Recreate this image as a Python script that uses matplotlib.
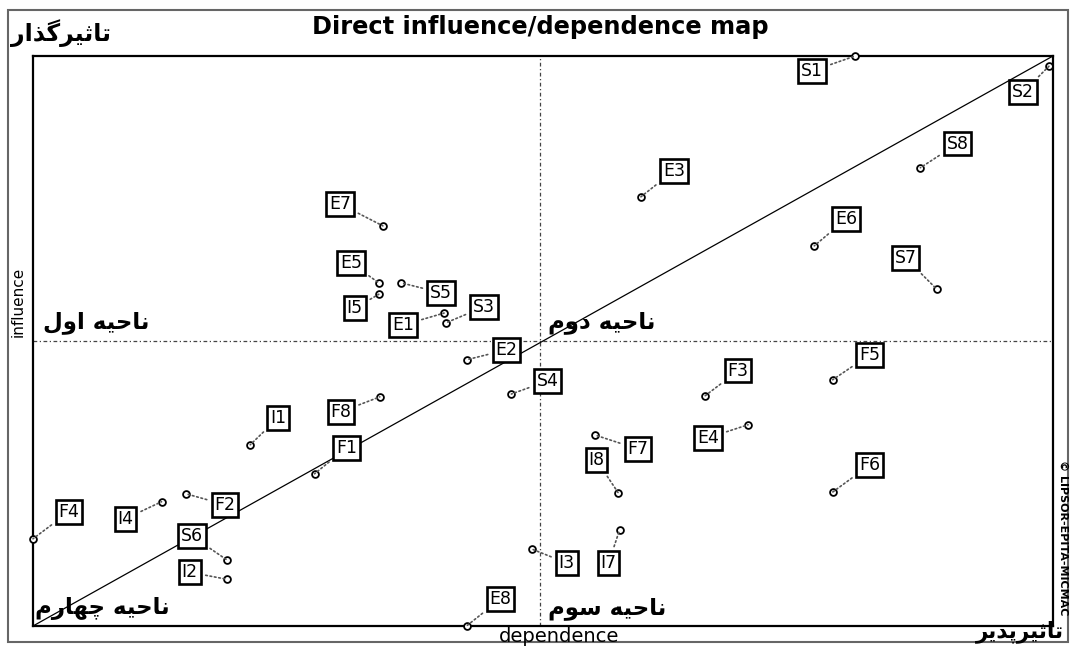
import matplotlib
matplotlib.use("Agg")
import matplotlib.pyplot as plt
from matplotlib.patches import Rectangle

# variables of the MICMAC direct influence/dependence map
names = ["S1", "S2", "S8", "E3", "E6", "S7", "E7", "E5", "I5", "S5", "S3", "E1",
         "E2", "S4", "F8", "I1", "F1", "F2", "I4", "F4", "S6", "I2", "E8", "I3",
         "I7", "I8", "F7", "E4", "F3", "F5", "F6"]
dependence = [80.6, 99.6, 87.0, 59.6, 76.6, 88.6, 34.3, 33.9, 33.9, 36.1, 40.5, 40.3,
              42.5, 46.9, 34.0, 21.3, 27.6, 15.0, 12.6, 0.0, 19.0, 19.0, 42.5, 48.9,
              57.5, 57.4, 55.1, 70.1, 65.9, 78.4, 78.4]
influence = [100.0, 98.2, 80.4, 75.3, 66.7, 59.1, 70.2, 60.2, 58.2, 60.2, 53.2, 54.9,
             46.7, 40.7, 40.2, 31.8, 26.7, 23.2, 21.8, 15.3, 11.6, 8.2, 0.0, 13.5,
             16.8, 23.3, 33.5, 35.3, 40.4, 43.2, 23.5]

# where each label box sits relative to its point (pixels, right/up)
label_offsets = [(-43, -15), (-26, -26), (37, 24), (33, 26), (32, 27), (-31, 31),
                 (-43, 22), (-28, 20), (-24, -14), (40, -10), (38, 16), (-41, -12),
                 (40, 10), (36, 13), (-39, -15), (28, 27), (32, 26), (39, -11),
                 (-36, -17), (36, 27), (-35, 24), (-37, 7), (34, 27), (35, -14),
                 (-11, -33), (-22, 33), (43, -14), (-40, -13), (33, 25), (37, 25),
                 (37, 27)]

# tiny persian shaper: presentation forms (isolated, final, initial, medial)
FORMS = {
    "ا": "\uFE8D\uFE8E", "ب": "\uFE8F\uFE90\uFE91\uFE92", "پ": "\uFB56\uFB57\uFB58\uFB59",
    "ت": "\uFE95\uFE96\uFE97\uFE98", "ث": "\uFE99\uFE9A\uFE9B\uFE9C",
    "چ": "\uFB7A\uFB7B\uFB7C\uFB7D", "ح": "\uFEA1\uFEA2\uFEA3\uFEA4",
    "د": "\uFEA9\uFEAA", "ذ": "\uFEAB\uFEAC", "ر": "\uFEAD\uFEAE", "ز": "\uFEAF\uFEB0",
    "س": "\uFEB1\uFEB2\uFEB3\uFEB4", "گ": "\uFB92\uFB93\uFB94\uFB95",
    "ل": "\uFEDD\uFEDE\uFEDF\uFEE0", "م": "\uFEE1\uFEE2\uFEE3\uFEE4",
    "ن": "\uFEE5\uFEE6\uFEE7\uFEE8", "ه": "\uFEE9\uFEEA\uFEEB\uFEEC",
    "و": "\uFEED\uFEEE", "ی": "\uFBFC\uFBFD\uFBFE\uFBFF",
}


def fa(text):
    out = []
    for i, ch in enumerate(text):
        if ch not in FORMS:
            out.append(ch)
            continue
        prev = text[i - 1] if i > 0 else ""
        nxt = text[i + 1] if i + 1 < len(text) else ""
        join_prev = prev in FORMS and len(FORMS[prev]) == 4
        join_next = nxt in FORMS and len(FORMS[ch]) == 4
        if join_prev and join_next:
            k = 3
        elif join_prev:
            k = 1
        elif join_next:
            k = 2
        else:
            k = 0
        out.append(FORMS[ch][k])
    return "".join(reversed(out))


fig = plt.figure(figsize=(10.73, 6.46), dpi=100)
ax = fig.add_axes([33 / 1073, 20 / 646, 1020 / 1073, 570 / 646])
ax.set_xlim(0, 100)
ax.set_ylim(0, 100)
ax.set_xticks([])
ax.set_yticks([])
for sp in ax.spines.values():
    sp.set_linewidth(1.6)

# outer panel border
fig.add_artist(Rectangle((8 / 1073, 4 / 646), 1060 / 1073, 632 / 646, transform=fig.transFigure,
                         fill=False, ec="#666666", lw=1.5))

ax.axvline(49.7, color="#444444", lw=0.9, ls=(0, (3, 2, 1, 2)))
ax.axhline(50.0, color="#444444", lw=0.9, ls=(0, (3, 2, 1, 2)))
ax.plot([0, 100], [0, 100], color="black", lw=0.9)

ax.scatter(dependence, influence, s=24, facecolor="white", edgecolor="black",
           linewidth=1.3, zorder=5, clip_on=False)

for name, x, y, (dx, dy) in zip(names, dependence, influence, label_offsets):
    ax.annotate(name, (x, y), xytext=(dx * 0.72, dy * 0.72), textcoords="offset points",
                ha="center", va="center", fontsize=12.5, family="DejaVu Sans",
                bbox=dict(boxstyle="square,pad=0.16", fc="white", ec="black", lw=1.9),
                arrowprops=dict(arrowstyle="-", ls=":", color="#555555", lw=1.2,
                                shrinkA=3, shrinkB=0),
                zorder=6)

quad_font = dict(fontsize=16.5, fontweight="bold", family="DejaVu Sans")
ax.text(1.0, 53.2, fa("ناحیه اول"), ha="left", va="center", **quad_font)
ax.text(50.5, 53.2, fa("ناحیه دوم"), ha="left", va="center", **quad_font)
ax.text(50.5, 3.0, fa("ناحیه سوم"), ha="left", va="center", **quad_font)
ax.text(0.2, 3.0, fa("ناحیه چهارم"), ha="left", va="center", **quad_font)

fig.text(11 / 1073, 1 - 33 / 646, fa("تاثیرگذار"), ha="left", va="center",
         fontsize=17, fontweight="bold", family="DejaVu Sans")
fig.text(1064 / 1073, 1 - 632 / 646, fa("تاثیرپذیر"), ha="right", va="center",
         fontsize=15.5, fontweight="bold", family="DejaVu Sans")

fig.text(540 / 1073, 1 - 27 / 646, "Direct influence/dependence map", ha="center",
         va="center", fontsize=17.4, fontweight="bold", family="DejaVu Sans")
fig.text(559 / 1073, 1 - 636 / 646, "dependence", ha="center", va="center", fontsize=14,
         family="DejaVu Sans")
fig.text(18 / 1073, 1 - 302 / 646, "influence", ha="center", va="center", fontsize=11,
         rotation=90, family="DejaVu Sans")
fig.text(1063 / 1073, 1 - 538 / 646, "© LIPSOR-EPITA-MICMAC", ha="center", va="center",
         fontsize=8, fontweight="bold", rotation=270, family="DejaVu Sans")

fig.savefig("out.png", dpi=100)
